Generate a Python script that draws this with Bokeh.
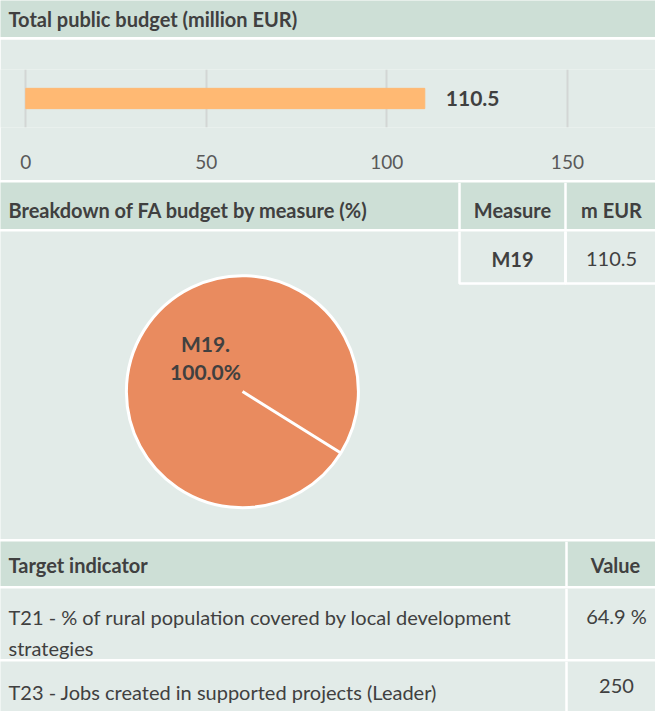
import math
from bokeh.plotting import figure
from bokeh.layouts import column
from bokeh.models import Range1d, FactorRange, FixedTicker, Span
from bokeh.core.properties import value
from bokeh.embed import file_html
from bokeh.resources import INLINE

# ---------------- data ----------------
budget_title = "Total public budget (million EUR)"
budget_category = ["Total"]
budget_values = [110.5]
budget_ticks = [0, 50, 100, 150]

breakdown_title = "Breakdown of FA budget by measure (%)"
measure_headers = ["Measure", "m EUR"]
measures = ["M19"]
measure_eur = [110.5]
measure_share = [100.0]

indicator_headers = ["Target indicator", "Value"]
indicator_labels = [
    "T21 - % of rural population covered by local development\nstrategies",
    "T23 - Jobs created in supported projects (Leader)",
]
indicator_values = [64.9, 250]
indicator_units = [" %", ""]

# ---------------- style ----------------
W = 655
HEADER = "#cddfd6"
BODY = "#e2ebe8"
TEXT = "#404040"
FONT = "Lato"
FONT_V = value(FONT)
FS = "20px"


def band(h, bg):
    p = figure(width=W, height=h, x_range=Range1d(0, W), y_range=Range1d(h, 0),
               x_axis_location=None, y_axis_location=None, toolbar_location=None,
               tools="", output_backend="svg", min_border=0)
    p.background_fill_color = bg
    p.border_fill_color = bg
    p.outline_line_color = None
    p.grid.grid_line_color = None
    return p


def txt(p, x, y, t, size=FS, bold=False, align="left", baseline="middle", color=TEXT, **kw):
    p.text(x=x, y=y, text=t, text_font=FONT_V, text_font_size=size,
           text_font_style="bold" if bold else "normal", text_color=color,
           text_align=align, text_baseline=baseline, **kw)


# header 1
h1 = band(37, HEADER)
txt(h1, [8], [18], [budget_title], bold=True)

# bar chart (frame spans full width so that all panels stay aligned)
pb = figure(width=W, height=141, x_range=Range1d(-7.0, 174.4), y_range=FactorRange(*budget_category),
            y_axis_location=None, toolbar_location=None, tools="", output_backend="svg",
            min_border_left=0, min_border_right=0, min_border_top=30, min_border_bottom=53)
pb.background_fill_color = BODY
pb.border_fill_color = BODY
pb.outline_line_color = None
pb.hbar(y=budget_category, left=0, right=budget_values, height=0.35, color="#ffb973")
pb.text(x=budget_values, y=budget_category, text=[f"{v:.1f}" for v in budget_values],
        x_offset=21, text_font=FONT_V, text_font_size="21px", text_font_style="bold",
        text_color=TEXT, text_baseline="middle", text_align="left")
pb.xaxis.ticker = FixedTicker(ticks=budget_ticks)
pb.xaxis.axis_line_color = None
pb.xaxis.major_tick_line_color = None
pb.xaxis.minor_tick_line_color = None
pb.xaxis.major_label_text_font = FONT
pb.xaxis.major_label_text_font_size = "19px"
pb.xaxis.major_label_text_color = "#595959"
pb.xaxis.major_label_standoff = 21
pb.xgrid.grid_line_color = "#d3d6d5"
pb.xgrid.grid_line_width = 2
pb.ygrid.grid_line_color = None

# header 2
h2 = band(47, HEADER)
txt(h2, [8], [27], [breakdown_title], bold=True)
col_x = [512, 611]
txt(h2, col_x, [27, 27], measure_headers, bold=True, align="center")
for xv in (459, 565):
    h2.add_layout(Span(location=xv, dimension="height", line_color="white", line_width=2.5))

# pie section
pp = band(308, BODY)
pp.quad(left=[459, 565], right=[565, 660], top=[-5, -5], bottom=[52, 52],
        fill_color=None, line_color="white", line_width=2.5)
txt(pp, [col_x[0]] * len(measures), [27] * len(measures), measures, bold=True, align="center")
txt(pp, [col_x[1]] * len(measures), [27] * len(measures), [f"{v:.1f}" for v in measure_eur],
    align="center")

cx, cy, r = 242, 160, 116
PIE_START = -32.0 * math.pi / 180
total = sum(measure_share)
starts, ends, acc = [], [], 0.0
for s in measure_share:
    starts.append(PIE_START + 2 * math.pi * acc / total)
    acc += s
    ends.append(PIE_START + 2 * math.pi * acc / total - 1e-4)
pp.wedge(x=[cx] * len(measures), y=[cy] * len(measures), radius=r, radius_units="screen",
         start_angle=starts, end_angle=ends, fill_color="#e98b5f", line_color="white",
         line_width=3)
txt(pp, [205], [112], [f"{measures[0]}."], size="21px", bold=True, align="center")
txt(pp, [205], [140], [f"{measure_share[0]:.1f}%"], size="21px", bold=True, align="center")

# header 3
h3 = band(45, HEADER)
txt(h3, [8], [23], [indicator_headers[0]], bold=True)
txt(h3, [615], [23], [indicator_headers[1]], bold=True, align="center")
h3.add_layout(Span(location=566, dimension="height", line_color="white", line_width=2.5))

# rows
rows = []
row_h = [71, 50]
label_y = [16, 18]
value_y = [27, 24]
for i, lab in enumerate(indicator_labels):
    rp = band(row_h[i], BODY)
    txt(rp, [8], [label_y[i]], [lab], baseline="top", text_line_height=1.3)
    txt(rp, [616], [value_y[i]], [f"{indicator_values[i]:g}{indicator_units[i]}"],
        align="center")
    rp.add_layout(Span(location=566, dimension="height", line_color="white", line_width=2.5))
    rows.append(rp)

layout = column(h1, pb, h2, pp, h3, *rows, spacing=2)
open("out.html", "w").write(file_html(layout, INLINE))
